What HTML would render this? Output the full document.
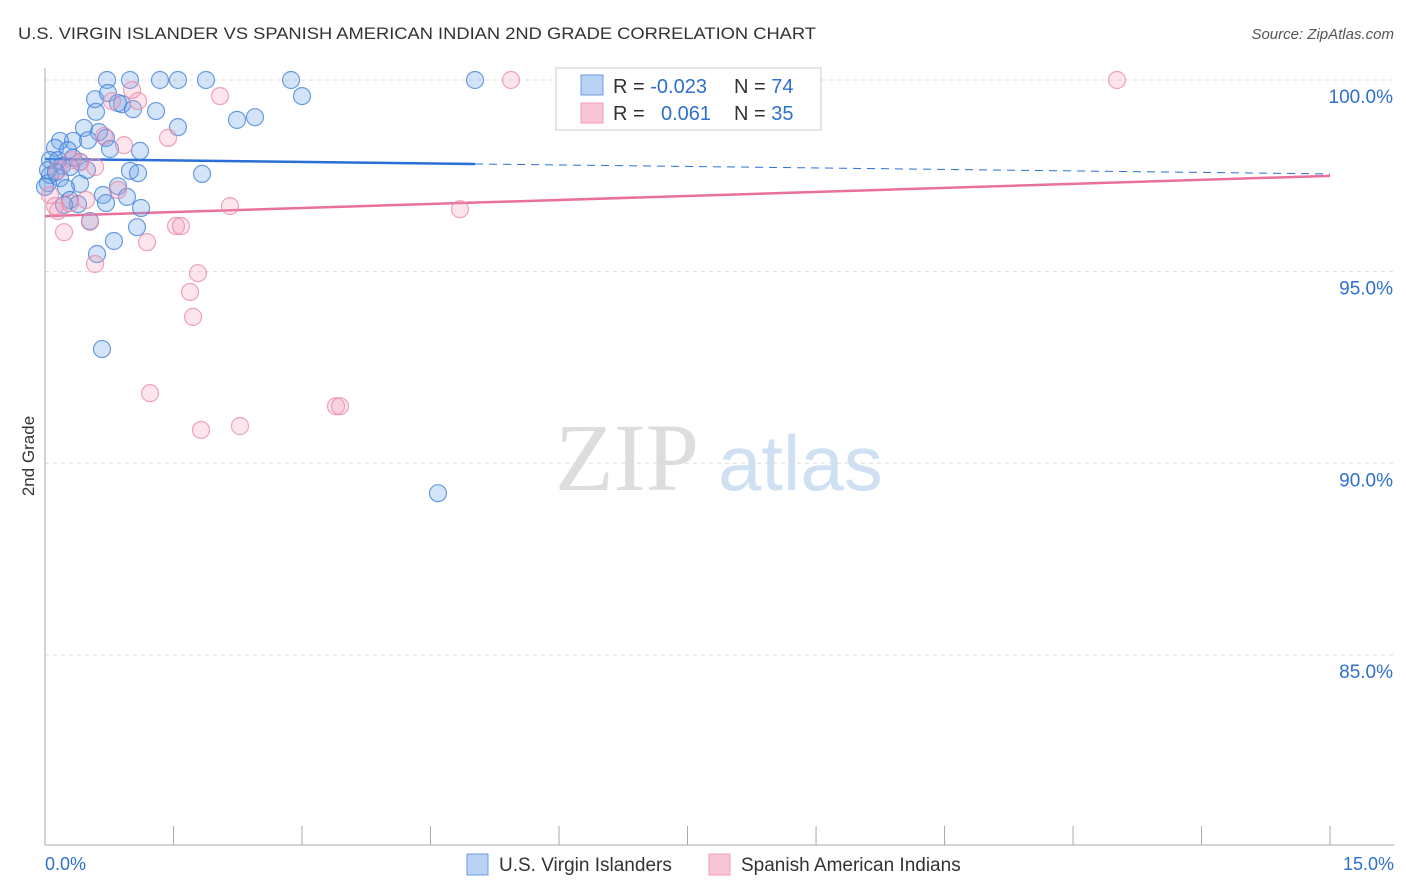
<!DOCTYPE html>
<html><head><meta charset="utf-8"><style>
body{margin:0;background:#fff;font-family:"Liberation Sans",sans-serif;}
#c{position:absolute;left:0;top:0;}
</style></head><body>
<svg id="c" width="1406" height="892">
<text x="18" y="39" font-size="17" fill="#333" textLength="798" lengthAdjust="spacingAndGlyphs">U.S. VIRGIN ISLANDER VS SPANISH AMERICAN INDIAN 2ND GRADE CORRELATION CHART</text>
<text x="1394" y="39" font-size="15" fill="#555" font-style="italic" text-anchor="end">Source: ZipAtlas.com</text>
<text x="34" y="456" font-size="17" fill="#333" transform="rotate(-90 34 456)" text-anchor="middle">2nd Grade</text>
<text x="555" y="490" font-size="96" fill="#ddd" font-family="Liberation Serif,serif">ZIP</text>
<text x="718" y="490" font-size="78" fill="#cfe0f3">atlas</text>
<g id="grid"></g><g id="axes"></g><g id="lines"></g><g id="pts"></g>
<g>
<rect x="556" y="68" width="265" height="62" fill="#fff" stroke="#ccc"/>
<rect x="581" y="75" width="22" height="20" fill="#b9d3f5" stroke="#6a9be0"/>
<rect x="581" y="103" width="22" height="20" fill="#f9c6d5" stroke="#ef9fb8"/>
<text x="613" y="93" font-size="20" fill="#333">R = <tspan fill="#2f6fd0">-0.023</tspan></text>
<text x="734" y="93" font-size="20" fill="#333">N = <tspan fill="#2f6fd0">74</tspan></text>
<text x="613" y="120" font-size="20" fill="#333">R = </text><text x="661" y="120" font-size="20" fill="#2f6fd0">0.061</text>
<text x="734" y="120" font-size="20" fill="#333">N = <tspan fill="#2f6fd0">35</tspan></text>
</g>
<g>
<rect x="467" y="854" width="21" height="21" fill="#b9d3f5" stroke="#6a9be0"/>
<text x="499" y="871" font-size="19" fill="#333">U.S. Virgin Islanders</text>
<rect x="709" y="854" width="21" height="21" fill="#f9c6d5" stroke="#ef9fb8"/>
<text x="741" y="871" font-size="19" fill="#333">Spanish American Indians</text>
</g>
<text x="45" y="870" font-size="18" fill="#2f6fd0">0.0%</text>
<text x="1394" y="870" font-size="18" fill="#2f6fd0" text-anchor="end">15.0%</text>
</svg>
<script>
const blueX=[0.724,0.992,1.342,1.552,1.879,2.872,5.019,3.0,0.584,0.735,0.899,1.027,1.296,0.595,0.852,2.241,2.451,1.552,0.455,0.63,0.502,0.712,0.175,0.327,0.759,1.109,0.117,0.268,0.058,0.152,0.327,0.409,0.198,0.49,0.992,1.086,1.833,0.058,0.175,0.409,0.245,0.035,0.677,0.852,0.957,0.292,0.385,0.712,1.121,0.525,1.074,0.805,0.607,0.665,4.587,0.035,0.128,0.292,0.222,0.0];
const blueY=[100.0,100.0,100.0,100.0,100.0,100.0,100.0,99.58,99.50,99.66,99.37,99.24,99.19,99.17,99.40,98.96,99.03,98.77,98.75,98.64,98.43,98.49,98.41,98.41,98.20,98.15,98.23,98.17,97.91,97.91,97.97,97.86,97.76,97.65,97.63,97.57,97.55,97.52,97.44,97.29,97.18,97.31,97.00,97.23,96.95,96.87,96.76,96.79,96.66,96.32,96.16,95.80,95.46,92.98,89.22,97.65,97.60,97.73,96.74,97.21];
const pinkX=[5.439,12.513,2.043,1.016,1.086,0.782,0.689,1.436,0.922,0.315,0.409,0.584,0.152,0.852,0.479,0.292,0.117,0.058,2.159,4.844,0.525,0.222,1.529,1.587,1.191,0.584,1.786,1.693,1.728,1.226,3.397,3.443,1.821,2.276,0.152];
const pinkY=[100.0,100.0,99.58,99.74,99.45,99.45,98.54,98.49,98.30,97.91,97.86,97.73,97.65,97.13,96.87,96.79,96.71,97.00,96.71,96.63,96.30,96.03,96.19,96.19,95.77,95.20,94.96,94.47,93.82,91.83,91.49,91.49,90.87,90.97,96.58];
const blueTrend=[97.94,97.55]; const pinkTrend=[96.45,97.50];
const yTicks=[100,95,90,85]; const yTickLabels=["100.0%","95.0%","90.0%","85.0%"];
const xTicks=[0,1.5,3,4.5,6,7.5,9,10.5,12,13.5,15];
const NS="http://www.w3.org/2000/svg";
const X=v=>45+v*85.67, Y=v=>80+(100-v)*38.33;
function mk(p,t,a){const e=document.createElementNS(NS,t);for(const k in a)e.setAttribute(k,a[k]);document.getElementById(p).appendChild(e);return e;}
yTicks.forEach((t,i)=>{
 const l=mk('grid','line',{x1:45,x2:1394,y1:Y(t),y2:Y(t),stroke:'#ddd','stroke-dasharray':'4,4'});
 
 
 const tx=mk('grid','text',{x:1393,y:Y(t)+23,'font-size':19,fill:'#2f6fd0','text-anchor':'end'});tx.textContent=yTickLabels[i];
 
 
});
let a=mk('axes','line',{x1:45,x2:45,y1:68,y2:845,stroke:'#aaa'});


a=mk('axes','line',{x1:45,x2:1394,y1:845,y2:845,stroke:'#aaa'});


xTicks.forEach(t=>{const l=mk('axes','line',{x1:X(t),x2:X(t),y1:826,y2:845,stroke:'#aaa'});
 
 });
function pts(xs,ys,fill,st,name){xs.forEach((x,i)=>{const c=mk('pts','circle',{cx:X(x),cy:Y(ys[i]),r:8.5,fill:fill,stroke:st,'stroke-width':1.2});
 
 });}
pts(blueX,blueY,'rgba(110,165,235,0.3)','rgba(60,125,215,0.75)','point-virgin-islander');
pts(pinkX,pinkY,'rgba(245,150,180,0.25)','rgba(235,140,170,0.8)','point-spanish-american-indian');
const bAt=v=>blueTrend[0]+(blueTrend[1]-blueTrend[0])*v/15;
let t=mk('lines','line',{x1:X(0),y1:Y(bAt(0)),x2:X(5.02),y2:Y(bAt(5.02)),stroke:'#2a6fd6','stroke-width':2.5});


t=mk('lines','line',{x1:X(5.02),y1:Y(bAt(5.02)),x2:X(15),y2:Y(bAt(15)),stroke:'#2a6fd6','stroke-width':1,'stroke-dasharray':'8,6'});


t=mk('lines','line',{x1:X(0),y1:Y(pinkTrend[0]),x2:X(15),y2:Y(pinkTrend[1]),stroke:'#e8709a','stroke-width':2.5});


</script>
</body></html>
